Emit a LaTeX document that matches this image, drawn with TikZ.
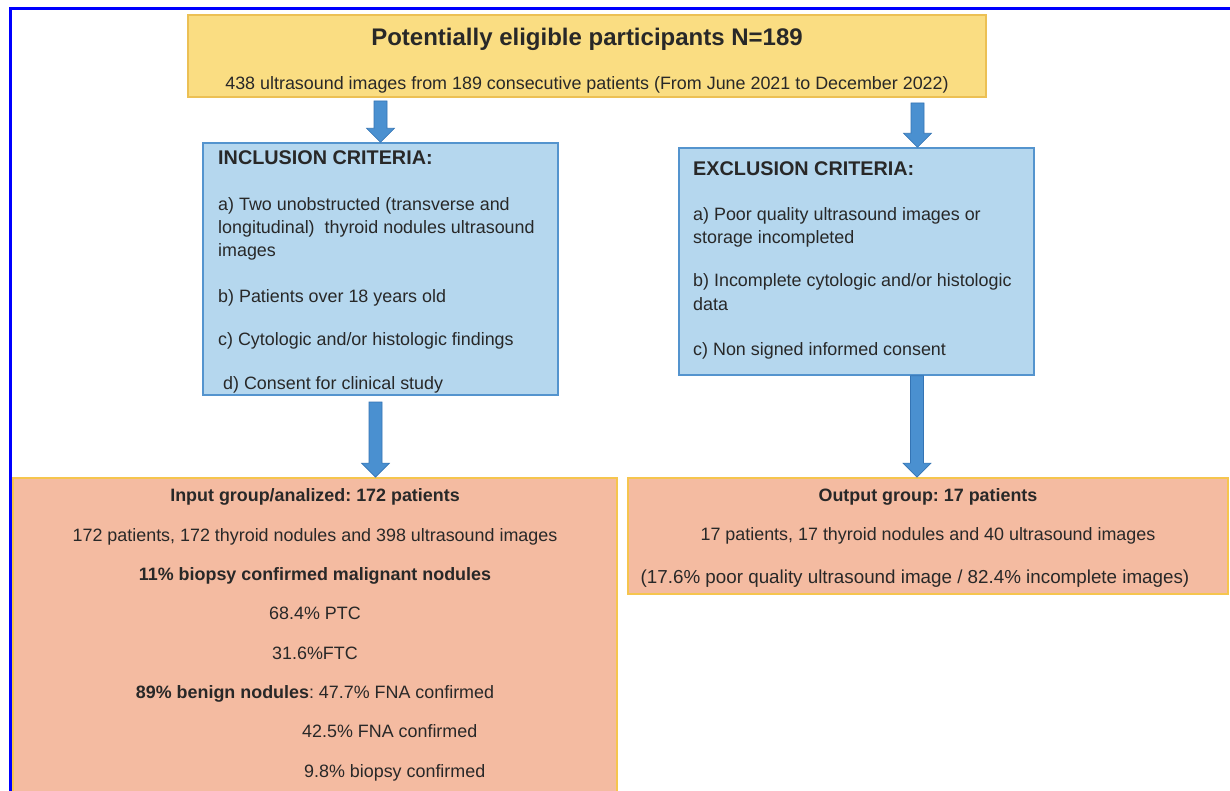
\documentclass[tikz,border=0pt]{standalone}
\usepackage{fontspec}
\setmainfont{Liberation Sans}
\usetikzlibrary{fit,calc}
\frenchspacing

\definecolor{frameblue}{RGB}{0,0,255}
\definecolor{yfill}{RGB}{250,221,130}
\definecolor{ydraw}{RGB}{236,192,84}
\definecolor{bfill}{RGB}{181,215,238}
\definecolor{bdraw}{RGB}{84,148,206}
\definecolor{sfill}{RGB}{244,187,161}
\definecolor{sdraw}{RGB}{246,197,78}
\definecolor{arrowfill}{RGB}{74,144,208}
\definecolor{arrowedge}{RGB}{52,116,180}
\definecolor{ink}{RGB}{40,40,40}

\tikzset{
  ybox/.style={draw=ydraw, fill=yfill, line width=1.8pt, inner sep=0pt},
  bbox/.style={draw=bdraw, fill=bfill, line width=1.4pt, inner sep=0pt},
  sbox/.style={draw=sdraw, fill=sfill, line width=1.8pt, inner sep=0pt},
  txt/.style={text=ink, inner sep=0pt, font=\fontsize{17.9}{20}\selectfont},
  lefttxt/.style={txt, anchor=base west},
  midtxt/.style={txt, anchor=base},
  boldmid/.style={midtxt, font=\fontsize{17.9}{20}\selectfont\bfseries},
  headtxt/.style={lefttxt, font=\fontsize{19.8}{22}\selectfont\bfseries},
  blockarrow/.style={fill=arrowfill, draw=arrowedge, line width=0.6pt},
}

% block arrow from #1 down to #2: shaft 13pt wide, head 28pt wide and 14pt long
\newcommand\flowarrow[2]{%
  \path[blockarrow] let \p1=(#1), \p2=(#2) in
    (\x1-6.5pt,\y1) -- (\x1+6.5pt,\y1) -- (\x1+6.5pt,\y2+14pt) --
    (\x1+14pt,\y2+14pt) -- (\x1,\y2) -- (\x1-14pt,\y2+14pt) --
    (\x1-6.5pt,\y2+14pt) -- cycle;}

\begin{document}
\begin{tikzpicture}[x=1pt,y=-1pt]
\path[use as bounding box, clip] (0,0) rectangle (1230,791);
\fill[white] (0,0) rectangle (1230,791);

% outer frame
\draw[frameblue, line width=3pt] (10.5,800) -- (10.5,8.5) -- (1240,8.5);

% boxes
\node[ybox, fit={(188,15) (986,97)}] (top) {};
\node[bbox, fit={(203,143) (558,395)}] (incl) {};
\node[bbox, fit={(679,148) (1034,375)}] (excl) {};
\node[sbox, fit={(13,478) (617,810)}] (inp) {};
\node[sbox, fit={(628,478) (1228,594)}] (outp) {};

% top box text
\node[midtxt, font=\fontsize{24}{28}\selectfont\bfseries] (t1) at (587,46) {Potentially eligible participants N=189};
\node[midtxt] (t2) at (587,89.5) {438 ultrasound images from 189 consecutive patients (From June 2021 to December 2022)};

% inclusion criteria
\node[headtxt] (i0) at (218,165) {INCLUSION CRITERIA:};
\node[lefttxt] (i1) at (218,211) {a) Two unobstructed (transverse and};
\node[lefttxt] (i2) at (218,233.5) {longitudinal)\ \ thyroid nodules ultrasound};
\node[lefttxt] (i3) at (218,256.5) {images};
\node[lefttxt] (i4) at (218,302) {b) Patients over 18 years old};
\node[lefttxt] (i5) at (218,345) {c) Cytologic and/or histologic findings};
\node[lefttxt] (i6) at (223,389) {d) Consent for clinical study};

% exclusion criteria
\node[headtxt] (e0) at (693,175.5) {EXCLUSION CRITERIA:};
\node[lefttxt] (e1) at (693,221) {a) Poor quality ultrasound images or};
\node[lefttxt] (e2) at (693,244) {storage incompleted};
\node[lefttxt] (e3) at (693,287) {b) Incomplete cytologic and/or histologic};
\node[lefttxt] (e4) at (693,310) {data};
\node[lefttxt] (e5) at (693,355) {c) Non signed informed consent};

% input group
\node[boldmid] (g0) at (315,501) {Input group/analized: 172 patients};
\node[midtxt] (g1) at (315,541) {172 patients, 172 thyroid nodules and 398 ultrasound images};
\node[boldmid] (g2) at (315,580.5) {11\% biopsy confirmed malignant nodules};
\node[midtxt] (g3) at (315,619.5) {68.4\% PTC};
\node[midtxt] (g4) at (315,659) {31.6\%FTC};
\node[midtxt] (g5) at (315,698) {\textbf{89\% benign nodules}: 47.7\% FNA confirmed};
\node[lefttxt] (g6) at (302,737.5) {42.5\% FNA confirmed};
\node[lefttxt] (g7) at (304,777) {9.8\% biopsy confirmed};

% output group
\node[boldmid] (o0) at (928,501) {Output group: 17 patients};
\node[midtxt] (o1) at (928,540.5) {17 patients, 17 thyroid nodules and 40 ultrasound images};
\node[midtxt, font=\fontsize{18.8}{21}\selectfont] (o2) at (915,583) {(17.6\% poor quality ultrasound image / 82.4\% incomplete images)};

% arrows
\coordinate (a1) at (380.5,101);
\coordinate (a2) at (917.5,103);
\coordinate (a3) at (375.5,402);
\coordinate (a4) at (917,375);
\flowarrow{a1}{incl.north -| a1}
\flowarrow{a2}{excl.north -| a2}
\flowarrow{a3}{inp.north -| a3}
\flowarrow{excl.south -| a4}{outp.north -| a4}
\end{tikzpicture}
\end{document}
